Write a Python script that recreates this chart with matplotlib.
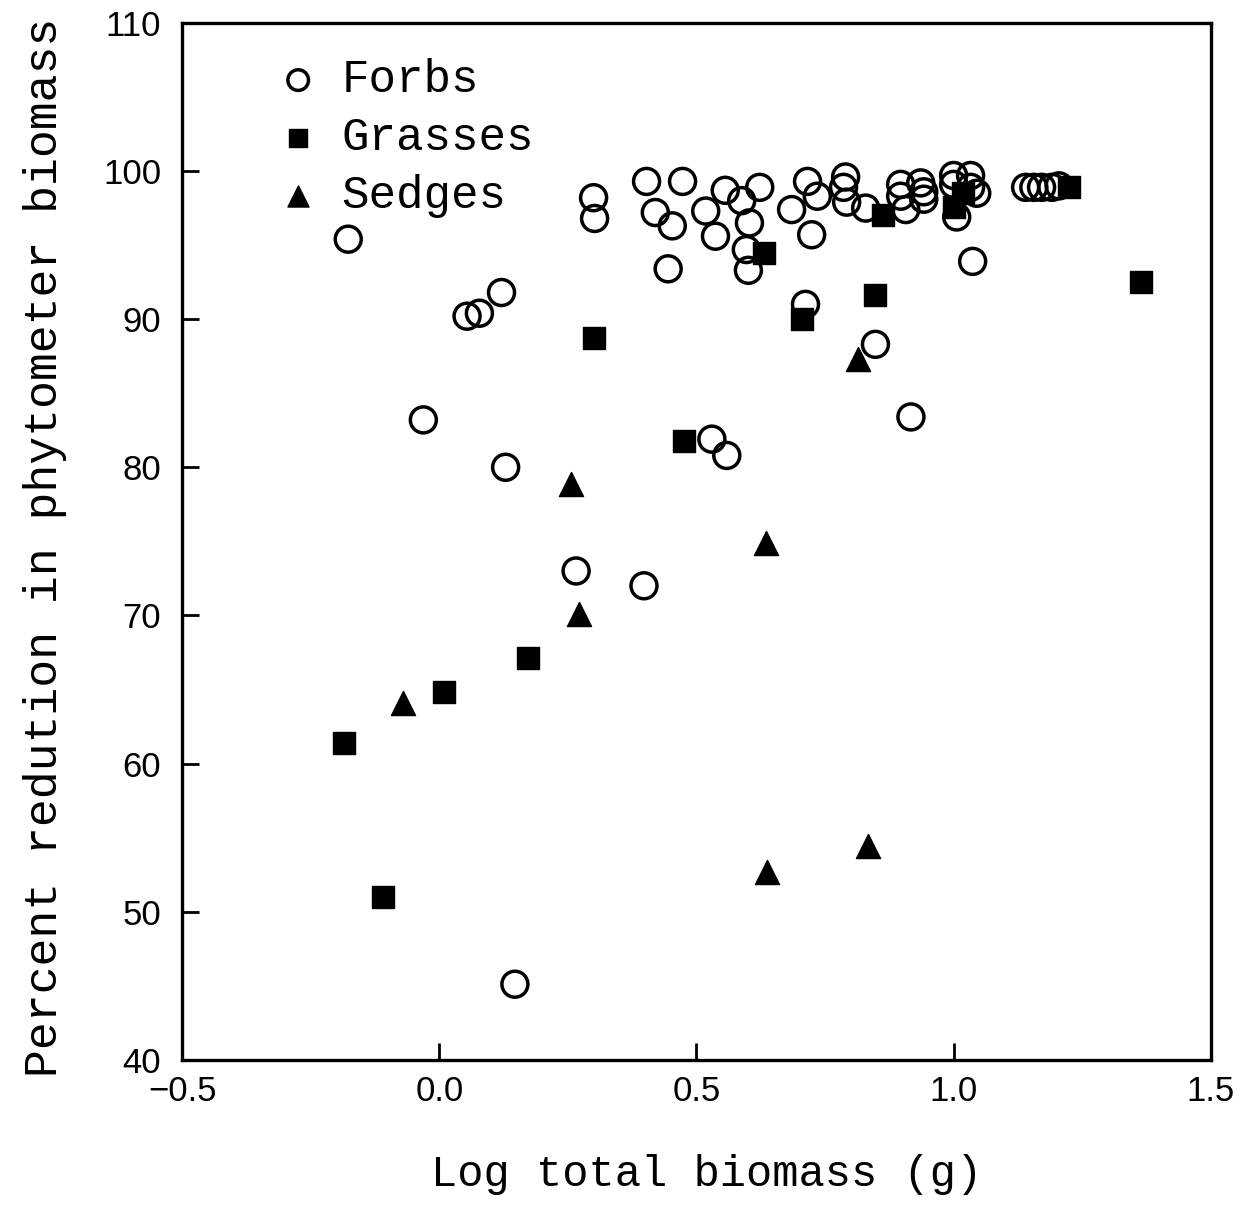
import numpy as np
import matplotlib.pyplot as plt

# log total biomass (g) vs percent reduction in phytometer biomass
forbs_x = [-0.177, 0.054, 0.078, 0.121, -0.031, 0.129, 0.147, 0.266, 0.398,
           0.300, 0.302, 0.403, 0.420, 0.453, 0.445, 0.473, 0.518, 0.537,
           0.556, 0.588, 0.603, 0.597, 0.601, 0.623, 0.530, 0.559, 0.685,
           0.716, 0.735, 0.724, 0.712, 0.790, 0.786, 0.792, 0.829, 0.848,
           0.897, 0.897, 0.907, 0.917, 0.936, 0.942, 0.942, 1.000, 1.000,
           1.033, 1.033, 1.006, 1.045, 1.037, 1.140, 1.156, 1.171, 1.191,
           1.205]
forbs_y = [95.4, 90.2, 90.4, 91.8, 83.2, 80.0, 45.1, 73.0, 72.0,
           98.2, 96.8, 99.3, 97.2, 96.3, 93.4, 99.3, 97.3, 95.6,
           98.7, 98.0, 96.5, 94.7, 93.3, 98.9, 81.9, 80.8, 97.4,
           99.3, 98.3, 95.7, 91.0, 99.6, 98.9, 97.9, 97.5, 88.3,
           99.1, 98.3, 97.4, 83.4, 99.2, 98.6, 98.1, 99.7, 99.1,
           99.7, 98.9, 96.9, 98.5, 93.9, 98.9, 98.9, 98.9, 98.9,
           99.0]

grasses_x = [-0.186, -0.110, 0.010, 0.173, 0.301, 0.476, 0.632, 0.706,
             0.848, 0.862, 1.000, 1.018, 1.224, 1.364]
grasses_y = [61.4, 51.0, 64.8, 67.1, 88.7, 81.8, 94.5, 90.0,
             91.6, 97.0, 97.6, 98.5, 98.9, 92.5]

sedges_x = [-0.070, 0.256, 0.272, 0.635, 0.815, 0.638, 0.833]
sedges_y = [64.1, 78.9, 70.1, 74.9, 87.3, 52.7, 54.4]

xticks = [-0.5, 0.0, 0.5, 1.0, 1.5]
xticklabels = ['\u22120.5', '0.0', '0.5', '1.0', '1.5']
yticks = [40, 50, 60, 70, 80, 90, 100, 110]

mono = 'Liberation Mono'
plt.rcParams['font.family'] = 'Liberation Sans'

fig = plt.figure(figsize=(12.56, 12.07), dpi=100)
ax = fig.add_axes([0.145, 0.122, 0.819, 0.859])

ax.scatter(forbs_x, forbs_y, s=350, facecolors='none', edgecolors='black',
           linewidths=2.5, label='Forbs', zorder=3)
ax.scatter(grasses_x, grasses_y, s=250, marker='s', color='black',
           label='Grasses', zorder=4)
ax.scatter(sedges_x, sedges_y, s=300, marker='^', color='black',
           label='Sedges', zorder=4)

ax.set_xlim(-0.5, 1.5)
ax.set_ylim(40, 110)
ax.set_xticks(xticks)
ax.set_xticklabels(xticklabels)
ax.set_yticks(yticks)
ax.tick_params(direction='in', length=12, width=2, labelsize=25)
ax.tick_params(axis='x', pad=11)
ax.tick_params(axis='y', pad=15)
for sp in ax.spines.values():
    sp.set_linewidth(2.4)

ax.set_xlabel('Log total biomass (g)', fontsize=31.5, family=mono, va='center')
ax.set_ylabel('Percent redution in phytometer biomass', fontsize=33.5,
              family=mono, va='center')
ax.xaxis.set_label_coords(0.51, -0.111)
ax.yaxis.set_label_coords(-0.133, 0.494)

leg = ax.legend(loc='upper left', bbox_to_anchor=(0.046, 0.997), frameon=False,
                prop={'family': mono, 'size': 33}, handletextpad=0.15,
                labelspacing=0.3, borderpad=0.2, handlelength=1.6)
leg.legend_handles[0].set_sizes([220])
leg.legend_handles[1].set_sizes([170])
leg.legend_handles[2].set_sizes([230])

fig.savefig('out.png', dpi=100)
